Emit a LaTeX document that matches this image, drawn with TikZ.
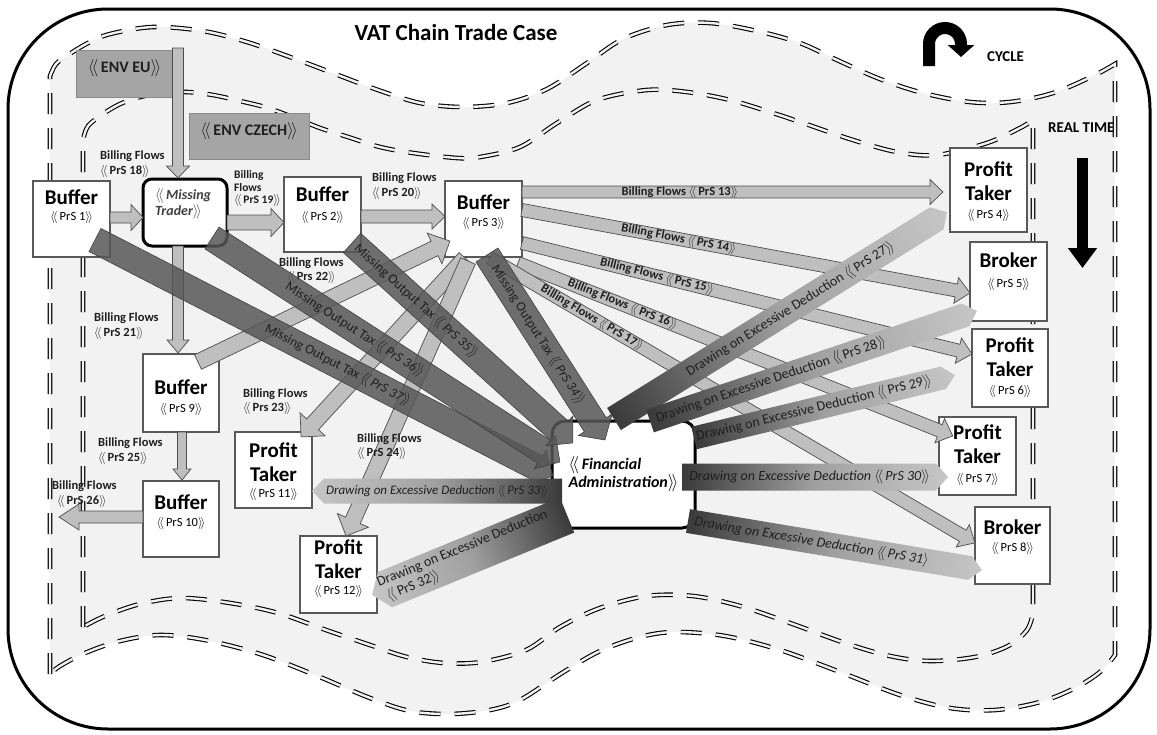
\documentclass[tikz,border=0pt]{standalone}
\usepackage{fontspec}
\setmainfont{Carlito}
\usetikzlibrary{arrows.meta}
\definecolor{bandgray}{HTML}{F2F2F2}
\definecolor{flowfill}{HTML}{BFBFBF}
\definecolor{flowline}{HTML}{4D4D4D}
\definecolor{envfill}{HTML}{A5A5A5}
\definecolor{envline}{HTML}{8A8A8A}
\definecolor{boxline}{HTML}{595959}
\definecolor{taxfill}{HTML}{575757}
\definecolor{taxline}{HTML}{404040}
\definecolor{dedDark}{HTML}{3A3A3A}
\definecolor{dedMid}{HTML}{A0A0A0}
\definecolor{dedLight}{HTML}{C6C6C6}
\definecolor{txtdark}{HTML}{1F1F1F}
\definecolor{mttext}{HTML}{404040}

\newcommand\dlang{$\langle\!\langle$\,}
\newcommand\drang{$\rangle\!\rangle$}
\newcommand\ttl[1]{{\bfseries #1}}
\newcommand\prs[1]{{\fontsize{12.5}{14}\selectfont\dlang #1\drang}}
\newcommand\bxc[4]{\parbox[c][#2pt][t]{#1pt}{\fontsize{21}{24}\selectfont\vspace*{#3pt}\centering #4\par}}

\makeatletter
\newcommand\fatarrow[6]{%
  \pgfpointdiff{\pgfpointanchor{#2}{center}}{\pgfpointanchor{#3}{center}}%
  \pgfgetlastxy{\fa@dx}{\fa@dy}%
  \pgfmathsetmacro\fa@ang{atan2(\fa@dy,\fa@dx)}%
  \pgfmathsetmacro\fa@len{10*veclen(\fa@dx/10,\fa@dy/10)}%
  \pgfmathsetmacro\fa@base{\fa@len-#6}%
  \begin{scope}[transform canvas={shift={(#2)},rotate=\fa@ang}]
    \path[#1] (0,-#4) -- (\fa@base,-#4) -- (\fa@base,-#5) -- (\fa@len,0)
      -- (\fa@base,#5) -- (\fa@base,#4) -- (0,#4) -- cycle;
  \end{scope}}
\makeatother

\begin{document}
\begin{tikzpicture}[x=1pt,y=-1pt,
  boxn/.style={draw=boxline,line width=1.2pt,fill=white,inner sep=0pt,text=black},
  envn/.style={draw=envline,line width=1pt,fill=envfill,inner sep=0pt,text=txtdark},
  mtbox/.style={draw=black,line width=3pt,rounded corners=9pt,fill=white,inner sep=0pt,text=mttext},
  fabox/.style={draw=black,line width=3pt,rounded corners=13pt,fill=white,minimum width=143pt,minimum height=107pt,inner sep=0pt,align=left,font=\fontsize{16}{18}\selectfont\bfseries\itshape},
  fatflow/.style={fill=flowfill,draw=flowline,line width=0.7pt},
  taxband/.style={fill=taxfill,fill opacity=0.85,draw=taxline,line width=0.6pt},
  dedband/.style={left color=dedDark,right color=dedLight,middle color=dedMid},
  flowlab/.style={font=\fontsize{12.5}{14.5}\selectfont\bfseries,text=txtdark,inner sep=0pt,align=left,anchor=north west},
  inflow/.style={font=\fontsize{12.5}{14}\selectfont\bfseries,text=txtdark,inner sep=0pt,sloped},
  taxlab/.style={font=\fontsize{13.5}{15}\selectfont,text=txtdark,inner sep=0pt,sloped},
  dedlab/.style={font=\fontsize{14}{16}\selectfont,text=txtdark,inner sep=0pt,sloped},
  dblline/.style={draw=black,line width=1.1pt,double=bandgray,double distance=2.4pt,dash pattern=on 21pt off 14pt},
]
\useasboundingbox (0,0) rectangle (1157,734);
\draw[line width=3pt,fill=white,rounded corners=100pt] (8,9) rectangle (1150,729);

% outer wavy band
\path[fill=bandgray,dblline] (50,674) -- (50,76) -- plot[smooth,tension=0.55] coordinates {(50,76) (56,64) (68,55) (88,43) (110,34) (153,27) (203,31) (247,42) (290,57) (330,72) (378,90) (420,103) (463,107) (507,103) (547,89) (587,63) (623,39) (667,25) (710,23) (757,31) (800,43) (837,60) (880,79) (923,93) (970,102) (1010,102) (1053,93) (1093,76) (1115,64)}
 -- (1115,655) -- plot[smooth,tension=0.55] coordinates {(1115,655) (1100,672) (1075,688) (1040,702) (995,710) (950,708) (900,695) (840,672) (780,650) (725,636) (675,632) (640,637) (600,651) (562,673) (520,700) (490,710) (450,714) (410,711) (370,698) (315,675) (260,654) (205,640) (160,635) (120,641) (85,653) (60,666) (50,674)} -- cycle;
% inner wavy band
\path[dblline] (83,627) -- (83,140) -- plot[smooth,tension=0.55] coordinates {(83,140) (88,126) (103,114) (120,104) (140,97) (165,93) (187,92) (213,95) (240,101) (268,108) (300,120) (320,128) (348,137) (380,147) (413,153) (457,158) (480,157) (520,147) (557,123) (597,100) (647,90) (687,92) (730,100) (773,113) (803,123) (853,140) (897,152) (937,155) (987,143) (1020,128) (1033,120)}
 -- (1033,613) -- plot[smooth,tension=0.55] coordinates {(1033,613) (1027,630) (1008,646) (975,657) (930,661) (890,656) (845,643) (790,623) (740,606) (693,596) (647,596) (600,608) (560,627) (526,650) (481,662) (444,663) (407,657) (370,645) (326,630) (278,613) (230,603) (181,598) (140,604) (105,616) (83,627)} -- cycle;

% title, cycle, real time
\node[font=\fontsize{23}{27}\selectfont\bfseries,anchor=base,inner sep=0pt] (title) at (456,40) {VAT Chain Trade Case};
\coordinate (cycA) at (929,66);
\coordinate (cycB) at (929,44);
\coordinate (cycC) at (961,57);
\draw[line width=12pt,-{Triangle[width=26pt,length=12pt]}] (cycA) -- (cycB) arc[start angle=180,end angle=0,radius=16pt] -- (cycC);
\node[font=\fontsize{15}{17}\selectfont\bfseries,anchor=base west,inner sep=0pt] (cycle) at (987,61) {CYCLE};
\node[font=\fontsize{15}{17}\selectfont\bfseries,anchor=base west,inner sep=0pt] (rtime) at (1048,132) {REAL TIME};
\coordinate (rtA) at (1082.5,158);
\coordinate (rtB) at (1082.5,268);
\draw[line width=11pt,-{Triangle[width=28pt,length=20pt]}] (rtA) -- (rtB);

% environments
\node[envn] (envEU) at (124.5,73.5) {\parbox[c][47pt][t]{97pt}{\fontsize{16}{18}\selectfont\bfseries\vspace*{10pt}\centering\dlang ENV EU\drang\par}};
\node[envn] (envCZ) at (249,136) {\parbox[c][46pt][t]{120pt}{\fontsize{16}{18}\selectfont\bfseries\vspace*{10pt}\centering\dlang ENV CZECH\drang\par}};

% boxes
\node[boxn] (b1) at (71.5,219) {\bxc{77}{76}{9}{\ttl{Buffer}\\[-8pt]\prs{PrS 1}}};
\node[mtbox] (mt) at (185,212.5) {\parbox[c][67pt][t]{84pt}{\fontsize{14}{13.5}\selectfont\bfseries\itshape\vspace*{10pt}\leftskip=12pt\relax\dlang Missing\\Trader\drang\par}};
\node[boxn] (b2) at (322.5,214.5) {\bxc{77}{75}{10}{\ttl{Buffer}\\[-5pt]\prs{PrS 2}}};
\node[boxn] (b3) at (483.5,219) {\bxc{77}{76}{14}{\ttl{Buffer}\\[-7pt]\prs{PrS 3}}};
\node[boxn] (pt4) at (988.5,190) {\bxc{77}{84}{14}{\ttl{Profit}\\\ttl{Taker}\\[-6pt]\prs{PrS 4}}};
\node[boxn] (br5) at (1008.5,281.5) {\bxc{77}{79}{11}{\ttl{Broker}\\[-4pt]\prs{PrS 5}}};
\node[boxn] (pt6) at (1010,368) {\bxc{76}{78}{9}{\ttl{Profit}\\\ttl{Taker}\\[-6pt]\prs{PrS 6}}};
\node[boxn] (pt7) at (977.5,456) {\bxc{77}{78}{8}{\ttl{Profit}\\\ttl{Taker}\\[-5pt]\prs{PrS 7}}};
\node[boxn] (br8) at (1012.5,545.5) {\bxc{75}{77}{13}{\ttl{Broker}\\[-7pt]\prs{PrS 8}}};
\node[boxn] (b9) at (181,393) {\bxc{76}{78}{26}{\ttl{Buffer}\\[-6pt]\prs{PrS 9}}};
\node[boxn] (b10) at (181,519) {\bxc{76}{76}{14}{\ttl{Buffer}\\[-7pt]\prs{PrS 10}}};
\node[boxn] (pt11) at (273.5,470) {\bxc{77}{76}{11}{\ttl{Profit}\\\ttl{Taker}\\[-8pt]\prs{PrS 11}}};
\node[boxn] (pt12) at (338.5,574.5) {\bxc{77}{77}{4}{\ttl{Profit}\\\ttl{Taker}\\[-8pt]\prs{PrS 12}}};

% billing flow arrows
\coordinate (a18s) at (178,48);   \coordinate (a18e) at (178,178);
\coordinate (a1s) at (110,217.5); \coordinate (a1e) at (143,217.5);
\coordinate (a19s) at (227,222.5);\coordinate (a19e) at (284,222.5);
\coordinate (a20s) at (361,216.5);\coordinate (a20e) at (445,216.5);
\coordinate (a13s) at (522,192);  \coordinate (a13e) at (943,192);
\coordinate (a14s) at (522,210);  \coordinate (a14e) at (970,293);
\coordinate (a15s) at (522,243);  \coordinate (a15e) at (972,354);
\coordinate (a16s) at (518,263);  \coordinate (a16e) at (953,436);
\coordinate (a17s) at (490,258);  \coordinate (a17e) at (975,543);
\coordinate (a21s) at (178,246);  \coordinate (a21e) at (178,353);
\coordinate (a22s) at (198,362);  \coordinate (a22e) at (450,241);
\coordinate (a23s) at (465,258);  \coordinate (a23e) at (301,437);
\coordinate (a24s) at (468,261);  \coordinate (a24e) at (346,536);
\coordinate (a25s) at (182,432);  \coordinate (a25e) at (182,480);
\coordinate (a26s) at (143,517);  \coordinate (a26e) at (59,517);
\fatarrow{fatflow}{a18s}{a18e}{5.5}{11.5}{12}
\fatarrow{fatflow}{a1s}{a1e}{5.5}{13}{12}
\fatarrow{fatflow}{a19s}{a19e}{7.5}{14}{13}
\fatarrow{fatflow}{a20s}{a20e}{6.5}{12.5}{13}
\fatarrow{fatflow}{a13s}{a13e}{6}{12.5}{13}
\fatarrow{fatflow}{a14s}{a14e}{6.5}{13}{14}
\fatarrow{fatflow}{a15s}{a15e}{6.5}{13}{14}
\fatarrow{fatflow}{a16s}{a16e}{6.5}{13}{14}
\fatarrow{fatflow}{a17s}{a17e}{6.5}{13}{14}
\fatarrow{fatflow}{a21s}{a21e}{5.5}{11}{13}
\fatarrow{fatflow}{a22s}{a22e}{8}{17}{17}
\fatarrow{fatflow}{a23s}{a23e}{8}{17}{17}
\fatarrow{fatflow}{a24s}{a24e}{8}{17}{17}
\fatarrow{fatflow}{a25s}{a25e}{4.5}{9}{11}
\fatarrow{fatflow}{a26s}{a26e}{6}{13}{20}

% billing labels
\node[flowlab] (lab18) at (100,151) {Billing Flows\\\dlang PrS 18\drang};
\node[flowlab,font=\fontsize{11.5}{12.5}\selectfont\bfseries] (lab19) at (234,170.5) {Billing\\Flows\\\dlang PrS 19\drang};
\node[flowlab] (lab20) at (372,173) {Billing Flows\\\dlang PrS 20\drang};
\node[flowlab] (lab21) at (94,313) {Billing Flows\\\dlang PrS 21\drang};
\node[flowlab,align=center] (lab22) at (279,257.5) {Billing Flows\\\dlang Prs 22\drang};
\node[flowlab] (lab23) at (243,388.5) {Billing Flows\\\dlang Prs 23\drang};
\node[flowlab] (lab24) at (357,433.5) {Billing Flows\\\dlang PrS 24\drang};
\node[flowlab] (lab25) at (98,438) {Billing Flows\\\dlang PrS 25\drang};
\node[flowlab] (lab26) at (52,481) {Billing Flows\\\hspace*{5pt}\dlang PrS 26\drang};

% financial administration
\node[fabox] (fa) at (623.5,474.5) {\dlang Financial\\Administration\drang};

% missing output tax bands
\coordinate (t34s) at (487,255); \coordinate (t34e) at (605,440);
\coordinate (t35s) at (352,243); \coordinate (t35e) at (573,443);
\coordinate (t36s) at (212,238); \coordinate (t36e) at (560,462);
\coordinate (t37s) at (95,240);  \coordinate (t37e) at (553,476);
\fatarrow{taxband}{t37s}{t37e}{13}{20}{18}
\fatarrow{taxband}{t36s}{t36e}{13}{20}{18}
\fatarrow{taxband}{t35s}{t35e}{13}{20}{18}
\fatarrow{taxband}{t34s}{t34e}{13}{20}{18}

% drawing on excessive deduction bands
\coordinate (d27s) at (614,419); \coordinate (d27e) at (947,212);
\coordinate (d28s) at (650,421); \coordinate (d28e) at (977,311);
\coordinate (d29s) at (694,438); \coordinate (d29e) at (955,375);
\coordinate (d30s) at (682,477); \coordinate (d30e) at (948,477);
\coordinate (d31s) at (688,521); \coordinate (d31e) at (982,570);
\coordinate (d32s) at (567,515); \coordinate (d32e) at (372,595);
\coordinate (d33s) at (562,491); \coordinate (d33e) at (312,491);
\fatarrow{dedband}{d27s}{d27e}{13}{13}{12}
\fatarrow{dedband}{d28s}{d28e}{12}{12}{12}
\fatarrow{dedband}{d29s}{d29e}{11.5}{11.5}{12}
\fatarrow{dedband}{d30s}{d30e}{13.5}{13.5}{12}
\fatarrow{dedband}{d31s}{d31e}{12}{12}{12}
\fatarrow{dedband}{d32s}{d32e}{19}{19}{14}
\fatarrow{dedband}{d33s}{d33e}{12.5}{12.5}{12}

% labels on bands
\path (a13s) -- (a13e) node[inflow,pos=.375] (l13) {Billing Flows \dlang PrS 13\drang};
\path (a14s) -- (a14e) node[inflow,pos=.35] (l14) {Billing Flows \dlang PrS 14\drang};
\path (a15s) -- (a15e) node[inflow,pos=.3] (l15) {Billing Flows \dlang PrS 15\drang};
\path (a16s) -- (a16e) node[inflow,pos=.24] (l16) {Billing Flows \dlang PrS 16\drang};
\path (a17s) -- (a17e) node[inflow,pos=.21] (l17) {Billing Flows \dlang PrS 17\drang};
\path (t34s) -- (t34e) node[taxlab,pos=.43] (l34) {Missing Output Tax \textit{\dlang PrS 34\drang}};
\path (t35s) -- (t35e) node[taxlab,pos=.29] (l35) {Missing Output Tax \textit{\dlang PrS 35\drang}};
\path (t36s) -- (t36e) node[taxlab,pos=.41] (l36) {Missing Output Tax \textit{\dlang PrS 36\drang}};
\path (t37s) -- (t37e) node[taxlab,pos=.53] (l37) {Missing Output Tax \textit{\dlang PrS 37\drang}};
\path (d27s) -- (d27e) node[dedlab,pos=.53] (l27) {Drawing on Excessive Deduction \dlang PrS 27\drang};
\path (d28s) -- (d28e) node[dedlab,pos=.37] (l28) {Drawing on Excessive Deduction \dlang PrS 28\drang};
\path (d29s) -- (d29e) node[dedlab,pos=.46] (l29) {Drawing on Excessive Deduction \dlang PrS 29\drang};
\path (d30s) -- (d30e) node[dedlab,pos=.48] (l30) {\itshape Drawing on Excessive Deduction \dlang PrS 30\drang};
\path (d31s) -- (d31e) node[dedlab,pos=.42] (l31) {\itshape Drawing on Excessive Deduction \dlang PrS 31$\rangle$};
\path (d32s) -- (d32e) node[dedlab,pos=.52,align=left] (l32) {Drawing on Excessive Deduction\\\hspace*{4pt}\dlang PrS 32\drang};
\path (d33s) -- (d33e) node[dedlab,pos=.5,font=\fontsize{13}{15}\selectfont\itshape] (l33) {Drawing on Excessive Deduction \dlang PrS 33\drang};
\end{tikzpicture}
\end{document}
